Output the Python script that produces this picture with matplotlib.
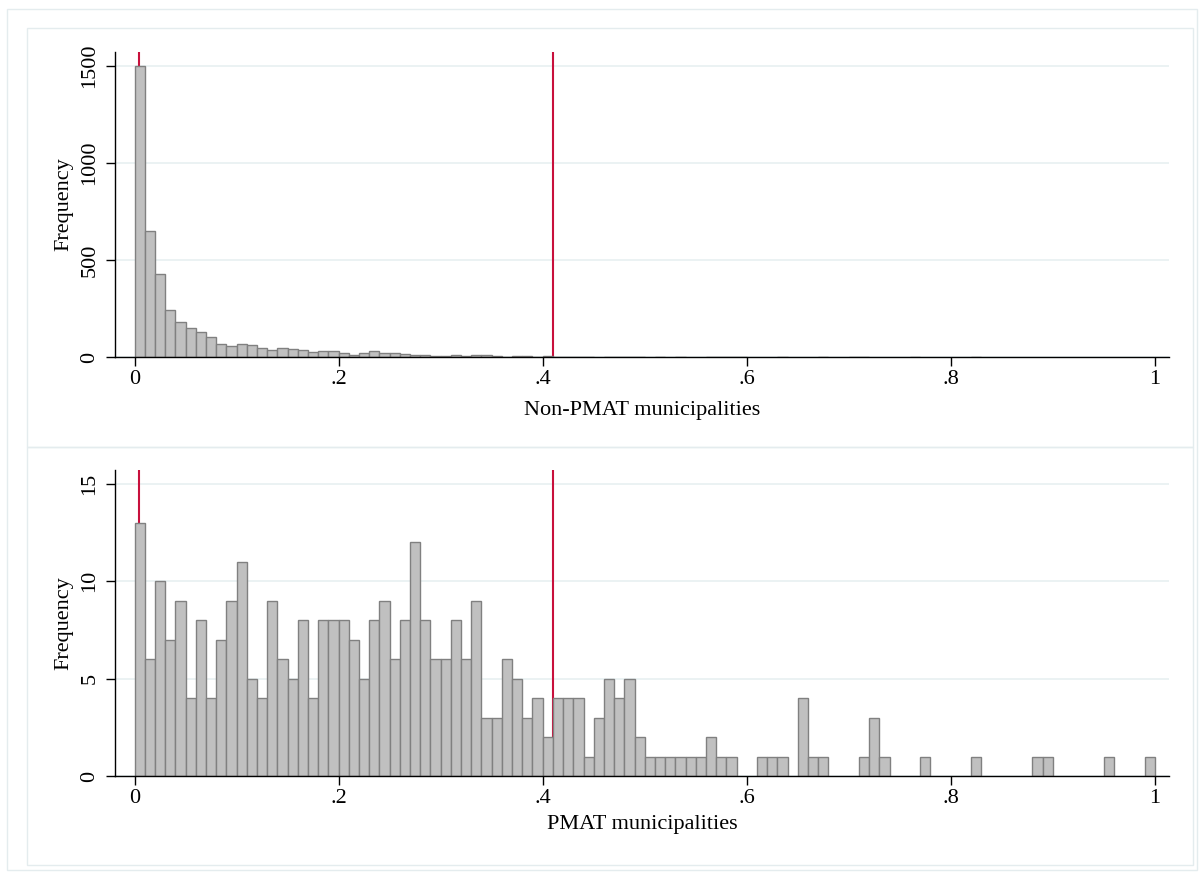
import numpy as np
import matplotlib
matplotlib.use("Agg")
import matplotlib.pyplot as plt
from matplotlib.patches import Rectangle

plt.rcParams['font.family'] = ['Liberation Serif', 'DejaVu Serif']

# histogram counts, 100 bins of width .01 on [0, 1]
bin_left = [i / 100 for i in range(100)]

non_pmat_counts = [
    1500, 648, 427, 243, 180, 153, 130, 103, 69, 56,
    66, 62, 50, 37, 47, 43, 35, 25, 34, 33,
    20, 12, 22, 32, 24, 22, 17, 14, 13, 9,
    5, 11, 7, 11, 11, 6, 4, 5, 5, 4,
    9, 3, 2, 2, 2, 0, 2, 1, 2, 1,
    0, 1, 0, 1, 0, 0, 2, 1, 1, 1,
    0, 0, 0, 1, 0, 0, 0, 1, 0, 0,
    1, 1, 0, 0, 0, 0, 1, 0, 0, 0,
    0, 0, 1, 0, 0, 0, 0, 0, 0, 0,
    0, 0, 0, 0, 0, 0, 0, 0, 0, 0,
]

pmat_counts = [
    13, 6, 10, 7, 9, 4, 8, 4, 7, 9,
    11, 5, 4, 9, 6, 5, 8, 4, 8, 8,
    8, 7, 5, 8, 9, 6, 8, 12, 8, 6,
    6, 8, 6, 9, 3, 3, 6, 5, 3, 4,
    2, 4, 4, 4, 1, 3, 5, 4, 5, 2,
    1, 1, 1, 1, 1, 1, 2, 1, 1, 0,
    0, 1, 1, 1, 0, 4, 1, 1, 0, 0,
    0, 1, 3, 1, 0, 0, 0, 1, 0, 0,
    0, 0, 1, 0, 0, 0, 0, 0, 1, 1,
    0, 0, 0, 0, 0, 1, 0, 0, 0, 1,
]

ref_lines = [0.004, 0.41]
x_ticks = [0, 0.2, 0.4, 0.6, 0.8, 1]
x_ticklabels = ['0', '.2', '.4', '.6', '.8', '1']

W, H = 1203, 876
fig = plt.figure(figsize=(W / 100, H / 100), dpi=100)
fig.patch.set_facecolor('white')

frame_col = '#e4ecee'
grid_col = '#e8f0f1'
FS = 16


def px_rect(x0, y0, x1, y1):
    # rectangle given in pixel coordinates measured from the top-left corner
    return Rectangle((x0 / W, 1 - y1 / H), (x1 - x0) / W, (y1 - y0) / H,
                     transform=fig.transFigure, fill=False,
                     edgecolor=frame_col, linewidth=1.0)


fig.add_artist(px_rect(7, 9, 1197, 870))
fig.add_artist(px_rect(27, 28, 1193, 447))
fig.add_artist(px_rect(27, 447, 1193, 865))


def panel(rect, counts, ylim, yticks, xlabel, xlabelpad):
    ax = fig.add_axes(rect)
    counts = np.array(counts)
    left = np.array(bin_left)
    nz = counts > 0
    ax.bar(left[nz], counts[nz], width=0.01, align='edge',
           color='#c0c0c0', edgecolor='#808080', linewidth=1.0, zorder=3)
    for v in ref_lines:
        ax.axvline(v, color='#c8103c', linewidth=1.5, zorder=2)
    ax.set_xlim(-0.019, 1.0136)
    ax.set_ylim(*ylim)
    ax.set_yticks(yticks)
    ax.set_yticklabels([str(t) for t in yticks], rotation=90, va='center')
    ax.set_xticks(x_ticks)
    ax.set_xticklabels(x_ticklabels)
    ax.grid(axis='y', color=grid_col, linewidth=1.2, zorder=0)
    ax.set_axisbelow(True)
    for s in ['top', 'right']:
        ax.spines[s].set_visible(False)
    for s in ['left', 'bottom']:
        ax.spines[s].set_linewidth(1.0)
        ax.spines[s].set_zorder(4)
    ax.tick_params(direction='out', length=6.5, width=1.0, labelsize=FS)
    ax.tick_params(axis='x', pad=3)
    ax.tick_params(axis='y', pad=5)
    ax.set_ylabel('Frequency', fontsize=FS, labelpad=5)
    ax.set_xlabel(xlabel, fontsize=FS, labelpad=xlabelpad)
    return ax


panel([115.3 / W, 1 - 357.3 / H, (1168.6 - 115.3) / W, (357.3 - 51.7) / H],
      non_pmat_counts, (0, 1571), [0, 500, 1000, 1500],
      'Non-PMAT municipalities', 8)
panel([115.3 / W, 1 - 776 / H, (1168.6 - 115.3) / W, (776 - 470) / H],
      pmat_counts, (0, 15.72), [0, 5, 10, 15], 'PMAT municipalities', 5)

fig.savefig('out.png', dpi=100, facecolor='white')
